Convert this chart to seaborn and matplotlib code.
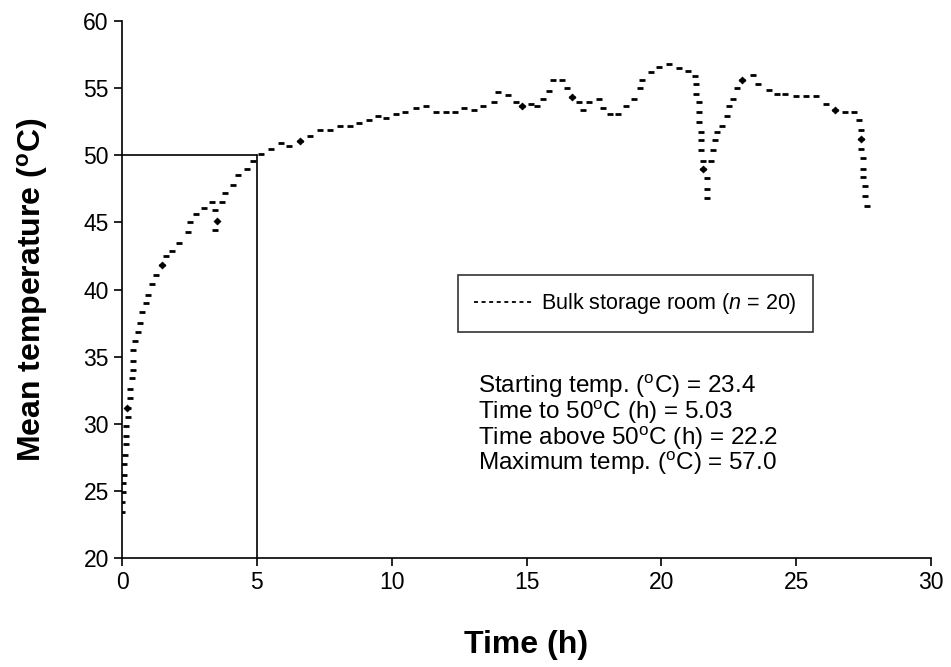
import matplotlib
matplotlib.use('Agg')
import matplotlib.pyplot as plt
import seaborn as sns
from matplotlib.lines import Line2D

# mean temperature readings (each shown as a short dash)
time_h = [0.0, 0.0, 0.05, 0.05, 0.07, 0.07, 0.11, 0.14, 0.14, 0.14, 0.21, 0.21,
          0.3, 0.3, 0.36, 0.42, 0.42, 0.42, 0.5, 0.58, 0.67, 0.73, 0.89, 0.95,
          1.1, 1.25, 1.47, 1.62, 1.84, 2.12, 2.43, 2.52, 2.74, 3.04, 3.32, 3.69,
          3.45, 3.45, 3.81, 4.12, 4.31, 4.65, 4.87, 5.17, 5.54, 5.9, 6.2, 6.6,
          6.96, 7.33, 7.7, 8.07, 8.44, 8.8, 9.16, 9.5, 9.8, 10.17, 10.5, 10.9,
          11.26, 11.65, 12.0, 12.36, 12.67, 13.04, 13.4, 13.78, 13.94, 14.3,
          14.6, 14.84, 15.17, 15.4, 15.6, 15.85, 16.0, 16.3, 16.5, 16.67, 16.96,
          17.1, 17.33, 17.7, 17.85, 18.1, 18.4, 18.7, 19.0, 19.2, 19.3, 19.6,
          19.9, 20.3, 20.67, 21.0, 21.26, 21.3, 21.3, 21.4, 21.4, 21.4, 21.46,
          21.46, 21.46, 21.53, 21.53, 21.7, 21.7, 21.7, 21.84, 21.92, 22.0,
          22.07, 22.25, 22.44, 22.5, 22.65, 22.8, 23.0, 23.4, 23.6, 24.0, 24.3,
          24.6, 25.0, 25.37, 25.75, 26.1, 26.44, 26.8, 27.15, 27.33, 27.4,
          27.4, 27.4, 27.48, 27.48, 27.48, 27.54, 27.54, 27.64]
temp_c = [23.4, 24.15, 24.9, 25.6, 26.2, 27.0, 27.7, 28.5, 29.1, 29.8, 30.5, 31.2,
          31.9, 32.6, 33.4, 34.0, 34.7, 35.5, 36.2, 36.8, 37.5, 38.3, 39.0, 39.6,
          40.4, 41.1, 41.8, 42.5, 42.9, 43.5, 44.3, 45.0, 45.6, 46.1, 46.5, 46.5,
          45.9, 44.4, 47.2, 47.8, 48.5, 49.0, 49.6, 50.1, 50.5, 50.9, 50.7, 51.05,
          51.4, 51.85, 51.85, 52.2, 52.2, 52.4, 52.6, 52.9, 52.8, 53.1, 53.2, 53.5,
          53.7, 53.2, 53.2, 53.2, 53.5, 53.4, 53.7, 54.0, 54.7, 54.5,
          54.0, 53.7, 53.8, 53.7, 54.2, 54.8, 55.6, 55.6, 55.0, 54.35, 54.0,
          53.4, 54.0, 54.2, 53.5, 53.1, 53.1, 53.7, 54.2, 55.0, 55.6, 56.2,
          56.6, 56.8, 56.5, 56.3, 55.9, 55.3, 54.55, 54.0, 53.2, 52.5, 51.7,
          51.1, 50.4, 49.6, 49.0, 48.3, 47.5, 46.8, 49.6, 50.4, 51.1,
          51.7, 52.2, 52.9, 53.7, 54.2, 55.0, 55.6, 56.0, 55.3, 54.85, 54.55,
          54.55, 54.4, 54.4, 54.4, 53.8, 53.4, 53.2, 53.2, 52.6, 51.9,
          51.2, 50.5, 49.8, 49.0, 48.4, 47.7, 47.0, 46.2]

# points drawn with a diamond symbol
mark_time = [0.2, 1.47, 3.53, 6.6, 14.84, 16.67, 21.53, 23.0, 26.44, 27.4]
mark_temp = [31.2, 41.8, 45.1, 51.05, 53.7, 54.35, 49.0, 55.6, 53.4, 51.2]

x_ticks = [0, 5, 10, 15, 20, 25, 30]
y_ticks = [20, 25, 30, 35, 40, 45, 50, 55, 60]

sns.set_style('white')
plt.rcParams['font.family'] = ['Liberation Sans', 'DejaVu Sans']
plt.rcParams['mathtext.fontset'] = 'custom'
plt.rcParams['mathtext.rm'] = 'Liberation Sans'
plt.rcParams['mathtext.it'] = 'Liberation Sans:italic'
plt.rcParams['mathtext.bf'] = 'Liberation Sans:bold'
plt.rcParams['text.color'] = 'black'
plt.rcParams['axes.labelcolor'] = 'black'

fig = plt.figure(figsize=(9.51, 6.67), dpi=100)
ax = fig.add_axes([0.1283, 0.1634, 0.8507, 0.8051])

# reference lines for time to reach 50 C
ax.plot([0, 5], [50, 50], color='black', lw=1.2)
ax.plot([5, 5], [20, 50], color='black', lw=1.2)

sns.scatterplot(x=time_h, y=temp_c, marker='_', s=13, linewidth=2.0,
                color='black', ax=ax, zorder=3)
sns.scatterplot(x=mark_time, y=mark_temp, marker='D', s=14, color='black',
                edgecolor='black', ax=ax, zorder=4)

ax.set_xlim(0, 30)
ax.set_ylim(20, 60)
ax.set_xticks(x_ticks)
ax.set_yticks(y_ticks)
ax.tick_params(direction='out', length=6, width=1.2, colors='black',
               labelsize=16.5, left=True, bottom=True)
for side in ['top', 'right']:
    ax.spines[side].set_visible(False)
for side in ['left', 'bottom']:
    ax.spines[side].set_color('black')
    ax.spines[side].set_linewidth(1.2)

ax.set_xlabel('Time (h)', fontsize=23, fontweight='bold', labelpad=26)
ax.set_ylabel(r'Mean temperature ($^{\mathbf{o}}$C)', fontsize=23,
              fontweight='bold', labelpad=24)

handle = Line2D([0], [0], color='black', lw=1.3, linestyle=(0, (2.2, 2)))
leg = ax.legend([handle], [r'Bulk storage room ($\mathit{n}$ = 20)'],
                loc='upper left', bbox_to_anchor=(0.415, 0.527),
                fontsize=15.5, frameon=True, fancybox=False, handlelength=2.7,
                handletextpad=0.4, borderpad=0.75, borderaxespad=0)
leg.get_frame().set_edgecolor('black')
leg.get_frame().set_linewidth(1.2)

stats = ('Starting temp. ($^{\\mathrm{o}}$C) = 23.4\n'
         'Time to 50$^{\\mathrm{o}}$C (h) = 5.03\n'
         'Time above 50$^{\\mathrm{o}}$C (h) = 22.2\n'
         'Maximum temp. ($^{\\mathrm{o}}$C) = 57.0')
ax.text(0.44, 0.345, stats, transform=ax.transAxes, fontsize=17.5,
        va='top', ha='left', linespacing=0.93)

fig.savefig('out.png', dpi=100)
